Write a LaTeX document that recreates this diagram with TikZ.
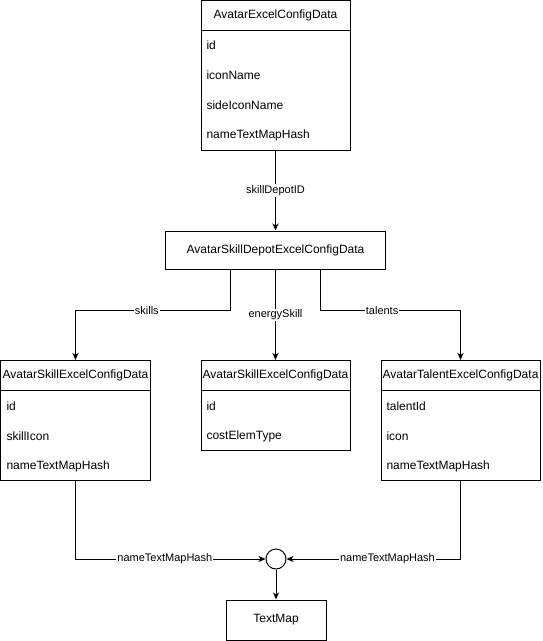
\documentclass[tikz,border=0pt]{standalone}
\usepackage{fontspec}
\setmainfont{Liberation Sans}
\usetikzlibrary{arrows.meta,positioning}

\begin{document}
\begin{tikzpicture}[x=1pt,y=-1pt,line width=1pt,
    hdr/.style={draw,minimum width=#1,minimum height=30pt,inner sep=0pt,outer sep=0pt,font=\fontsize{12}{14}\selectfont},
    tblbody/.style={draw,minimum width=#1,inner sep=0pt,outer sep=0pt,anchor=north},
    fld/.style={anchor=west,inner sep=0pt,font=\fontsize{12}{14}\selectfont},
    lbl/.style={fill=white,inner sep=1pt,font=\fontsize{11}{13}\selectfont},
    arr/.style={-{Stealth[length=7pt,width=6pt,inset=2pt]}}]
    \useasboundingbox (0,0) rectangle (542,641);

    % AvatarExcelConfigData
    \node[hdr=149pt] (avatar) at (275.5,15.5) {AvatarExcelConfigData};
    \node[tblbody=149pt,minimum height=120pt] (avatarBody) at (avatar.south) {};
    \node[fld] (avatarId) at (206,45) {id};
    \node[fld] (avatarIcon) at (206,75) {iconName};
    \node[fld] (avatarSide) at (206,105) {sideIconName};
    \node[fld] (avatarHash) at (206,135) {nameTextMapHash};

    % AvatarSkillDepotExcelConfigData
    \node[draw,minimum width=220pt,minimum height=38pt,font=\fontsize{12}{14}\selectfont] (depot) at (275.5,250) {AvatarSkillDepotExcelConfigData};

    % AvatarSkillExcelConfigData (skills)
    \node[hdr=150pt] (skill) at (75.5,375) {AvatarSkillExcelConfigData};
    \node[tblbody=150pt,minimum height=90pt] (skillBody) at (skill.south) {};
    \node[fld] (skillId) at (6,406) {id};
    \node[fld] (skillIcon) at (6,436) {skillIcon};
    \node[fld] (skillHash) at (6,466) {nameTextMapHash};

    % AvatarSkillExcelConfigData (energySkill)
    \node[hdr=149pt] (energy) at (275.5,375) {AvatarSkillExcelConfigData};
    \node[tblbody=149pt,minimum height=60pt] (energyBody) at (energy.south) {};
    \node[fld] (energyId) at (206,406) {id};
    \node[fld] (energyCost) at (206,436) {costElemType};

    % AvatarTalentExcelConfigData
    \node[hdr=159pt] (talent) at (460.5,375) {AvatarTalentExcelConfigData};
    \node[tblbody=159pt,minimum height=90pt] (talentBody) at (talent.south) {};
    \node[fld] (talentId) at (386,406) {talentId};
    \node[fld] (talentIcon) at (386,436) {icon};
    \node[fld] (talentHash) at (386,466) {nameTextMapHash};

    % join + TextMap
    \node[draw,circle,minimum size=20pt,inner sep=0pt] (hub) at (276,559) {};
    \node[draw,minimum width=100pt,minimum height=40pt,font=\fontsize{12}{14}\selectfont] (textmap) at (276,620) {TextMap};

    % avatar -> depot
    \draw[arr] (avatarBody.south) -- node[lbl] {skillDepotID} (depot.north);

    % depot -> skills / energySkill / talents
    \draw[arr] ([xshift=-45pt]depot.south) -- ++(0,41) -| node[lbl,pos=0.27] {skills} (skill.north);
    \draw[arr] (depot.south) -- node[lbl] {energySkill} (energy.north);
    \draw[arr] ([xshift=45pt]depot.south) -- ++(0,41) -| node[lbl,pos=0.22] {talents} (talent.north);

    % hashes -> TextMap
    \draw[arr] (skillBody.south) |- node[lbl,pos=0.735] {nameTextMapHash} (hub);
    \draw[arr] (talentBody.south) |- node[lbl,pos=0.71] {nameTextMapHash} (hub);
    \draw[arr] (hub) -- (textmap);
\end{tikzpicture}
\end{document}
